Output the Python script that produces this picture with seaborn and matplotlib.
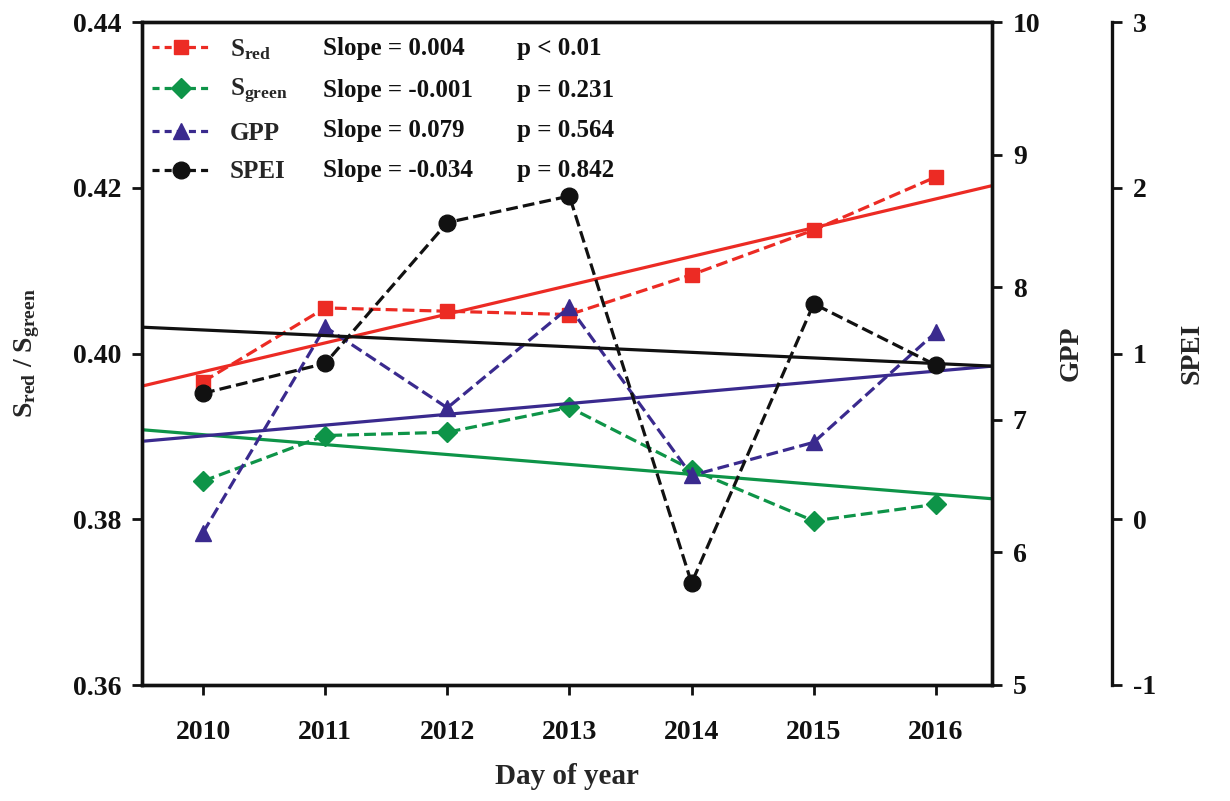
import numpy as np
import pandas as pd
import matplotlib
matplotlib.use("Agg")
import matplotlib.pyplot as plt
import seaborn as sns
from matplotlib.lines import Line2D

# ---------------- data ----------------
years = [2010, 2011, 2012, 2013, 2014, 2015, 2016]
s_red = [0.3966, 0.4055, 0.4051, 0.4047, 0.4095, 0.4149, 0.4213]
s_green = [0.3846, 0.3901, 0.3905, 0.3935, 0.3860, 0.3798, 0.3818]
gpp = [6.15, 7.70, 7.09, 7.85, 6.58, 6.83, 7.66]
spei = [0.76, 0.94, 1.79, 1.95, -0.385, 1.30, 0.93]

legend_names = [r"$\mathbf{S}_{\mathbf{red}}$", r"$\mathbf{S}_{\mathbf{green}}$", "GPP", "SPEI"]
slope_texts = ["Slope = 0.004", "Slope = -0.001", "Slope = 0.079", "Slope = -0.034"]
p_texts = ["p < 0.01", "p = 0.231", "p = 0.564", "p = 0.842"]

left_ticks = [0.36, 0.38, 0.40, 0.42, 0.44]
gpp_ticks = [5, 6, 7, 8, 9, 10]
spei_ticks = [-1, 0, 1, 2, 3]

RED = "#EC2B24"
GREEN = "#0E9448"
PURPLE = "#3A2A8E"
BLACK = "#111111"

# ---------------- style ----------------
sns.set_style("ticks")
plt.rcParams["font.family"] = ["Liberation Serif", "DejaVu Serif"]
plt.rcParams["font.weight"] = "bold"
plt.rcParams["axes.labelweight"] = "bold"
plt.rcParams["mathtext.fontset"] = "custom"
plt.rcParams["mathtext.rm"] = "Liberation Serif:bold"
plt.rcParams["mathtext.bf"] = "Liberation Serif:bold"
plt.rcParams["mathtext.it"] = "Liberation Serif:bold"

FS = 19
TFS = 20
LW = 2.3

fig = plt.figure(figsize=(12.3, 8.01), dpi=100)
ax = fig.add_axes([142 / 1230, 1 - 685 / 801, (992 - 142) / 1230, (685 - 22) / 801])
ax2 = ax.twinx()
ax3 = ax.twinx()
ax3.spines["right"].set_position(("axes", 1.141))
for k in ("left", "top", "bottom"):
    ax3.spines[k].set_visible(False)

ax.set_xlim(2009.5, 2016.46)
ax.set_ylim(0.36, 0.44)
ax2.set_ylim(5, 10)
ax3.set_ylim(-1, 3)

df = pd.DataFrame({"year": years, "s_red": s_red, "s_green": s_green, "gpp": gpp, "spei": spei})

series = [
    (ax, "s_red", RED, "s"),
    (ax, "s_green", GREEN, "D"),
    (ax2, "gpp", PURPLE, "^"),
    (ax3, "spei", BLACK, "o"),
]
msizes = {"s": 10.5, "D": 10.5, "^": 11.5, "o": 12}
handles = []
for a, col, c, m in series:
    sns.regplot(data=df, x="year", y=col, ax=a, scatter=False, ci=None, truncate=False,
                line_kws=dict(color=c, lw=LW, zorder=2))
    sns.lineplot(data=df, x="year", y=col, ax=a, color=c, marker=m, markersize=msizes[m],
                 markeredgecolor=c, markeredgewidth=1, linestyle="--", linewidth=LW,
                 sort=False, zorder=3, dashes=False)
    handles.append(Line2D([], [], color=c, marker=m, markersize=msizes[m], markeredgecolor=c,
                          linestyle=(0, (2.2, 1.6)), linewidth=LW))
ax.set_xlim(2009.5, 2016.46)

# ---------------- axes styling ----------------
for a in (ax, ax2, ax3):
    a.set_xlabel("")
    a.set_ylabel("")

ax.set_xticks(years)
ax.set_xticklabels([str(y) for y in years])
ax.set_yticks(left_ticks)
ax.set_yticklabels([f"{v:.2f}" for v in left_ticks])
ax2.set_yticks(gpp_ticks)
ax2.set_yticklabels([str(v) for v in gpp_ticks])
ax3.set_yticks(spei_ticks)
ax3.set_yticklabels([str(v) for v in spei_ticks])

for a in (ax, ax2):
    for sp in a.spines.values():
        sp.set_linewidth(2.4)
        sp.set_color("#111111")
ax3.spines["right"].set_linewidth(2.4)
ax3.spines["right"].set_color("#111111")

ax.tick_params(axis="x", direction="out", length=7, width=2, pad=18, colors="#111111", labelsize=TFS)
ax.tick_params(axis="y", direction="out", length=7, width=2, pad=8, colors="#111111", labelsize=TFS)
ax2.tick_params(axis="y", direction="out", length=7, width=2, pad=8, colors="#111111", labelsize=TFS)
ax3.tick_params(axis="y", direction="out", length=7, width=2, pad=8, colors="#111111", labelsize=TFS)
for a in (ax, ax2, ax3):
    for lab in a.get_xticklabels() + a.get_yticklabels():
        lab.set_fontweight("bold")

ax.set_ylabel(r"$\mathbf{S}_{\mathbf{red}}$ / $\mathbf{S}_{\mathbf{green}}$", fontsize=20)
ax.yaxis.set_label_coords((42 - 142) / 850, 0.5)
ax.set_xlabel("Day of year", fontsize=21)
ax.xaxis.set_label_coords(0.5, (685 - 763) / 663)
ax2.set_ylabel("GPP", fontsize=20)
ax2.yaxis.set_label_coords((1059 - 142) / 850, 0.5)
ax3.set_ylabel("SPEI", fontsize=20)
ax3.yaxis.set_label_coords((1179 - 142) / 850, 0.5)

# ---------------- legend ----------------
leg = ax3.legend(handles, legend_names, loc="upper left", bbox_to_anchor=(10 / 850, 0.977),
                 frameon=False, fontsize=FS - 1, handlelength=2.3, handletextpad=0.8,
                 borderaxespad=0, borderpad=0, labelspacing=0.62)
row_y = [48, 90, 131, 171]
for yy, st, pt in zip(row_y, slope_texts, p_texts):
    yf = (685 - yy) / 663
    ax3.text((323 - 142) / 850, yf, st, transform=ax.transAxes, fontsize=FS - 1,
             fontweight="bold", va="center", ha="left", color="#111111")
    ax3.text((517 - 142) / 850, yf, pt, transform=ax.transAxes, fontsize=FS - 1,
             fontweight="bold", va="center", ha="left", color="#111111")

fig.savefig("out.png", dpi=100, facecolor="white")
